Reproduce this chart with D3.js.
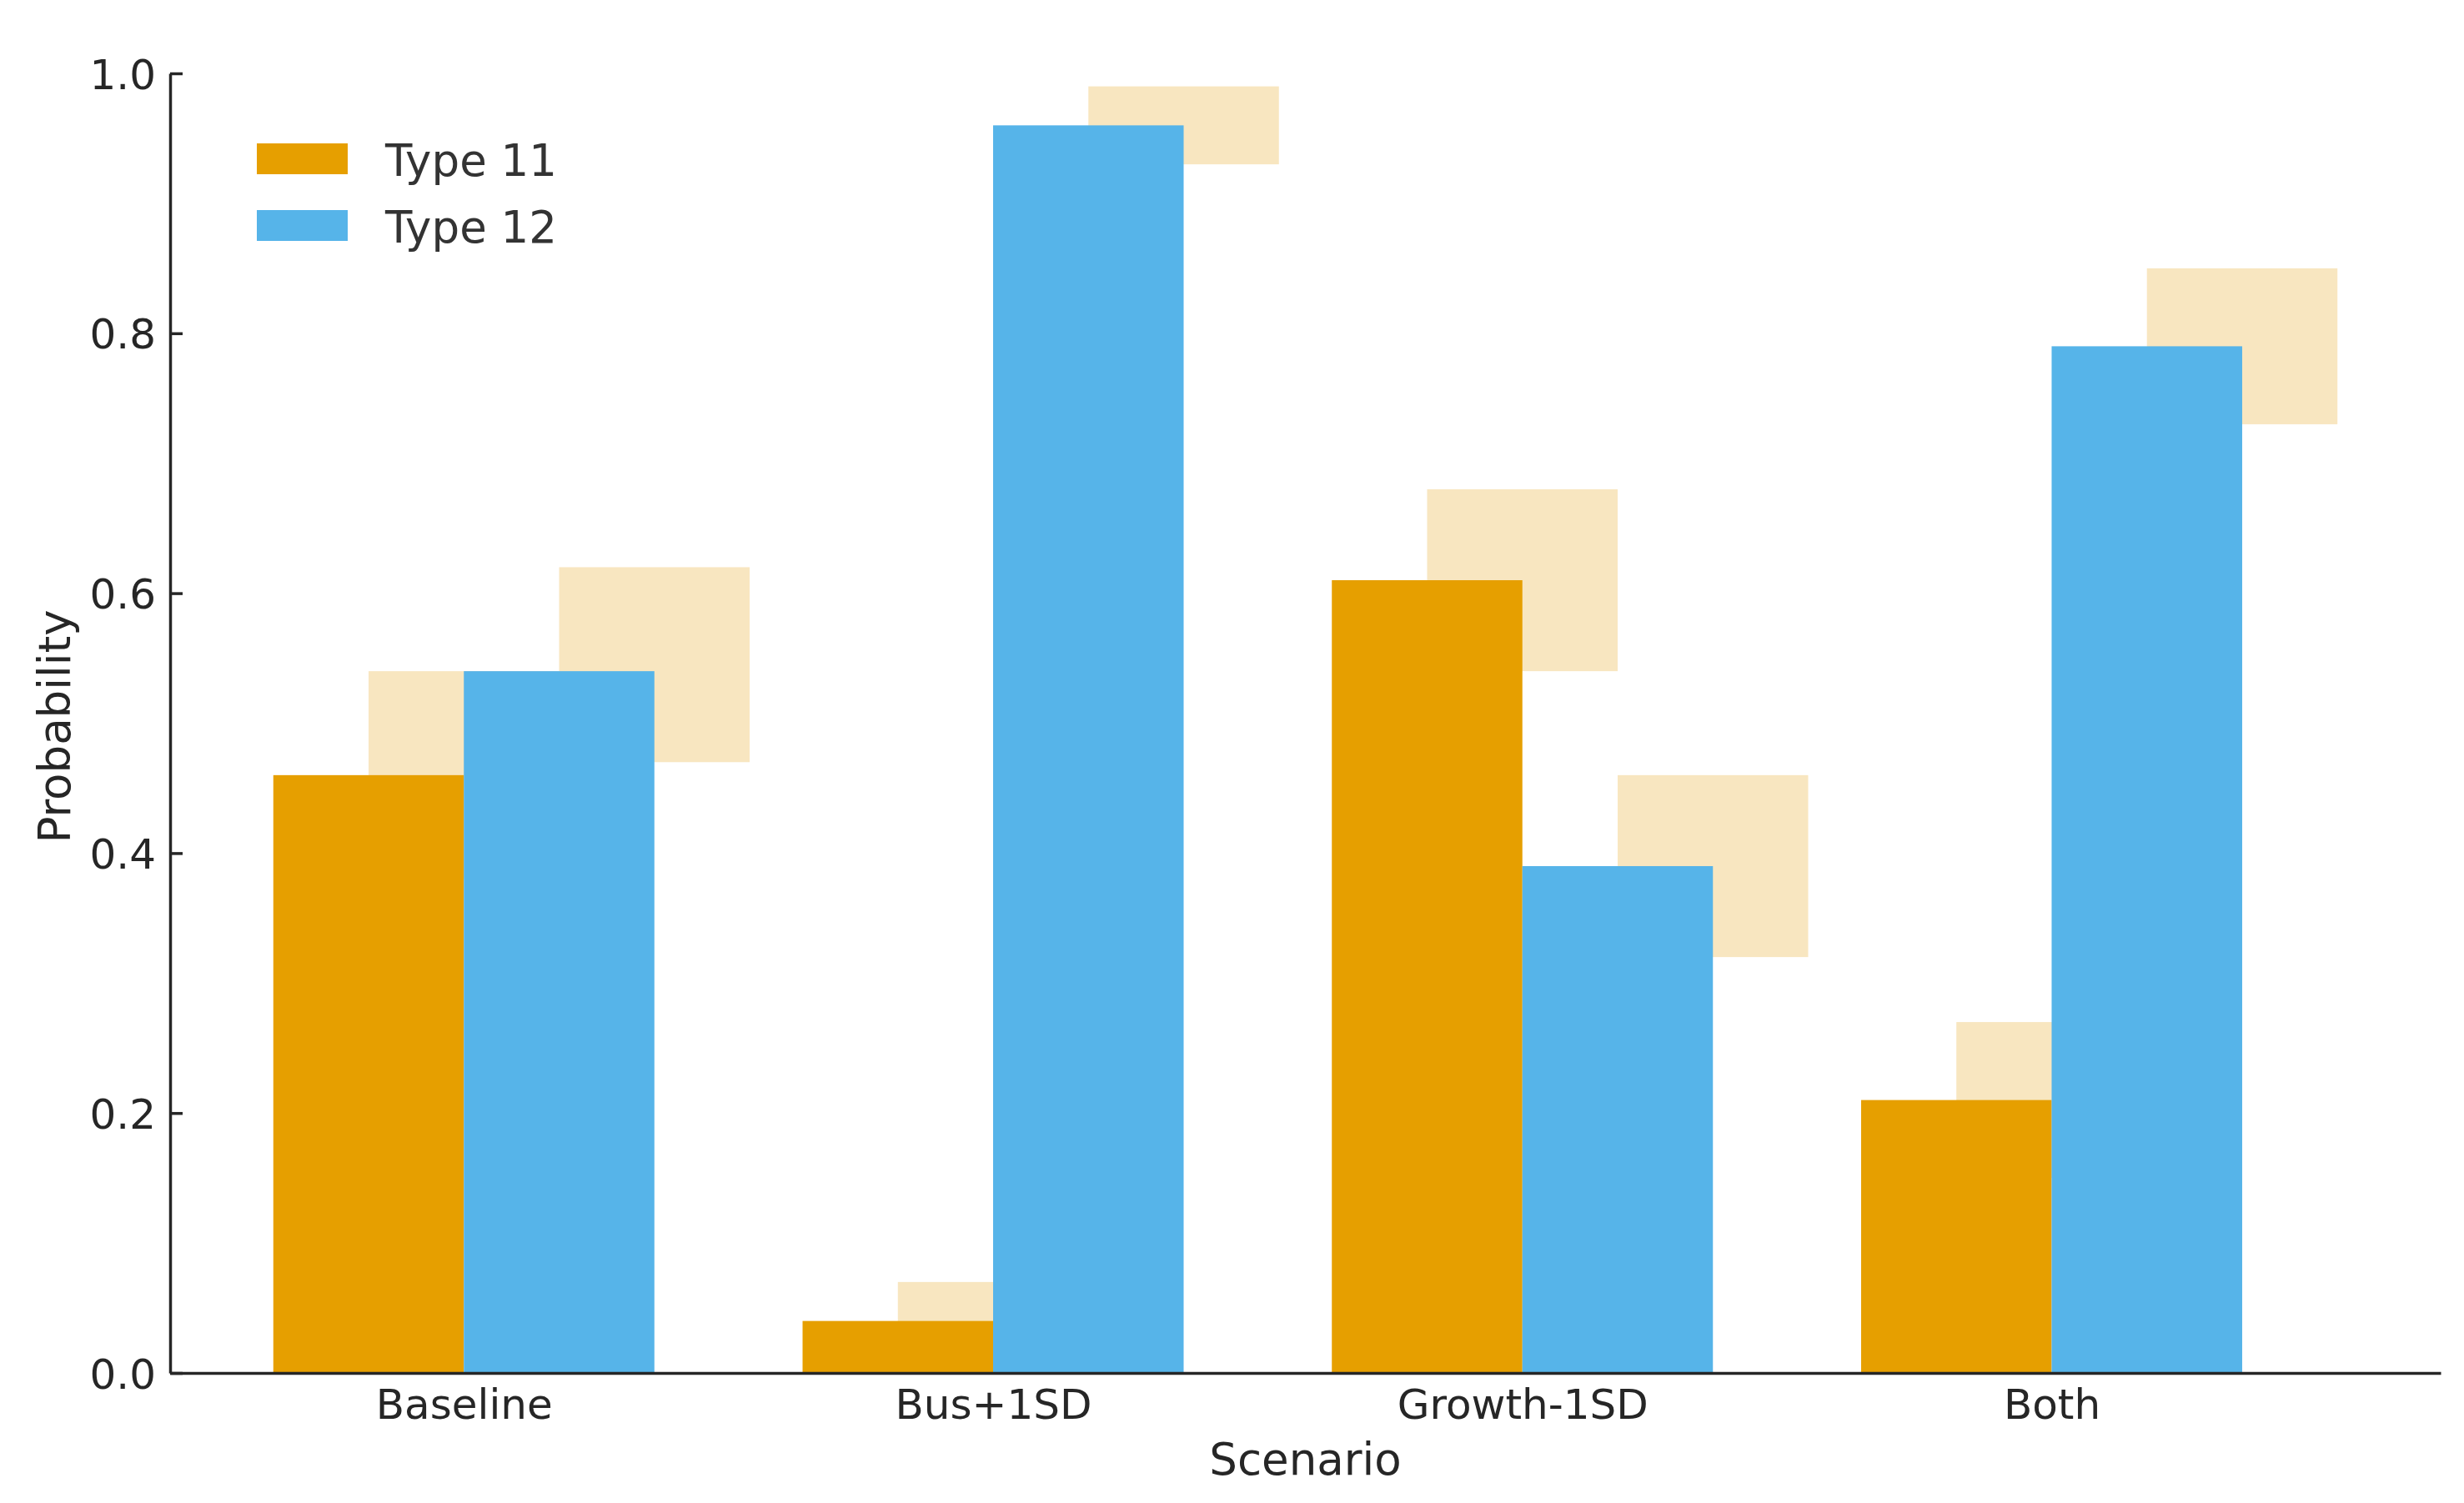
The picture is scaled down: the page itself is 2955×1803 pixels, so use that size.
<!DOCTYPE html>
<html>
<head>
<meta charset="utf-8">
<script src="https://cdn.jsdelivr.net/npm/d3@7"></script>
<style>
  html, body { margin: 0; padding: 0; background: #ffffff; }
  svg { display: block; }
  text { font-family: "DejaVu Sans", sans-serif; }
</style>
</head>
<body>
<svg id="chart" width="2955" height="1803"></svg>
<script>
// ---- data ----
const categories = ["Baseline", "Bus+1SD", "Growth-1SD", "Both"];
const seriesNames = ["Type 11", "Type 12"];
const type11 = [0.46, 0.04, 0.61, 0.21];
const type12 = [0.54, 0.96, 0.39, 0.79];
const type11Low = [0.38, 0.01, 0.54, 0.15];
const type11High = [0.54, 0.07, 0.68, 0.27];
const type12Low = [0.47, 0.93, 0.32, 0.73];
const type12High = [0.62, 0.99, 0.46, 0.85];
const yTicks = [0.0, 0.2, 0.4, 0.6, 0.8, 1.0];

// ---- styling ----
const colors = ["#E69F00", "#56B4E9"];
const bandColor = "#F8E6C0";
const axisColor = "#262626";
const textColor = "#262626";

const W = 2955, H = 1803;
const plot = { left: 204, right: 2927, top: 88, bottom: 1647 };
const barW = 0.36;

const svg = d3.select("#chart");

// x extent: orange bar left edge to blue band right edge, with 5% margins
const xmin = -barW, xmax = (categories.length - 1) + 1.5 * barW;
const pad = 0.05 * (xmax - xmin);
const x = d3.scaleLinear().domain([xmin - pad, xmax + pad]).range([plot.left, plot.right]);
const y = d3.scaleLinear().domain([0, 1]).range([plot.bottom, plot.top]);

const rows = categories.map((c, i) => ({
  i, c,
  v: [type11[i], type12[i]],
  lo: [type11Low[i], type12Low[i]],
  hi: [type11High[i], type12High[i]]
}));

// bands (drawn behind bars), offset by half a bar width to the right
const gBands = svg.append("g");
rows.forEach(r => {
  [0, 1].forEach(s => {
    const left = r.i + (s === 0 ? -barW / 2 : barW / 2);
    gBands.append("rect")
      .attr("x", x(left))
      .attr("width", x(left + barW) - x(left))
      .attr("y", y(r.hi[s]))
      .attr("height", y(r.lo[s]) - y(r.hi[s]))
      .attr("fill", bandColor);
  });
});

// bars
const gBars = svg.append("g");
rows.forEach(r => {
  [0, 1].forEach(s => {
    const left = r.i + (s === 0 ? -barW : 0);
    gBars.append("rect")
      .attr("x", x(left))
      .attr("width", x(left + barW) - x(left))
      .attr("y", y(r.v[s]))
      .attr("height", y(0) - y(r.v[s]))
      .attr("fill", colors[s]);
  });
});

// y axis (ticks inward)
const yAxis = d3.axisLeft(y).tickValues(yTicks).tickFormat(d3.format(".1f"))
  .tickSizeInner(-15).tickSizeOuter(0).tickPadding(17);
const gy = svg.append("g").attr("transform", `translate(${plot.left},0)`).call(yAxis);
gy.select(".domain").attr("stroke", axisColor).attr("stroke-width", 3.5);
gy.selectAll(".tick line").attr("stroke", axisColor).attr("stroke-width", 3.5);
gy.selectAll(".tick text").attr("fill", textColor).attr("font-size", 50)
  .attr("font-family", "DejaVu Sans").attr("dy", "0.36em");

// x axis
const xAxis = d3.axisBottom(x).tickValues(d3.range(categories.length))
  .tickFormat(i => categories[i]).tickSize(0).tickPadding(55);
const gx = svg.append("g").attr("transform", `translate(0,${plot.bottom})`).call(xAxis);
gx.select(".domain").attr("stroke", axisColor).attr("stroke-width", 3.5);
gx.selectAll(".tick text").attr("fill", textColor).attr("font-size", 50)
  .attr("font-family", "DejaVu Sans").attr("dy", "0");

// axis labels
svg.append("text")
  .attr("x", (plot.left + plot.right) / 2).attr("y", 1769)
  .attr("text-anchor", "middle").attr("font-size", 53).attr("fill", textColor)
  .text("Scenario");
svg.append("text")
  .attr("transform", `translate(84,${(plot.top + plot.bottom) / 2 + 4}) rotate(-90)`)
  .attr("text-anchor", "middle").attr("font-size", 53).attr("fill", textColor)
  .text("Probability");

// legend
const lg = svg.append("g").attr("transform", "translate(308,172)");
seriesNames.forEach((n, k) => {
  lg.append("rect").attr("x", 0).attr("y", k * 80).attr("width", 109).attr("height", 37)
    .attr("fill", colors[k]);
  lg.append("text").attr("x", 154).attr("y", k * 80 + 39).attr("font-size", 53)
    .attr("fill", "#333333").text(n);
});
</script>
</body>
</html>
